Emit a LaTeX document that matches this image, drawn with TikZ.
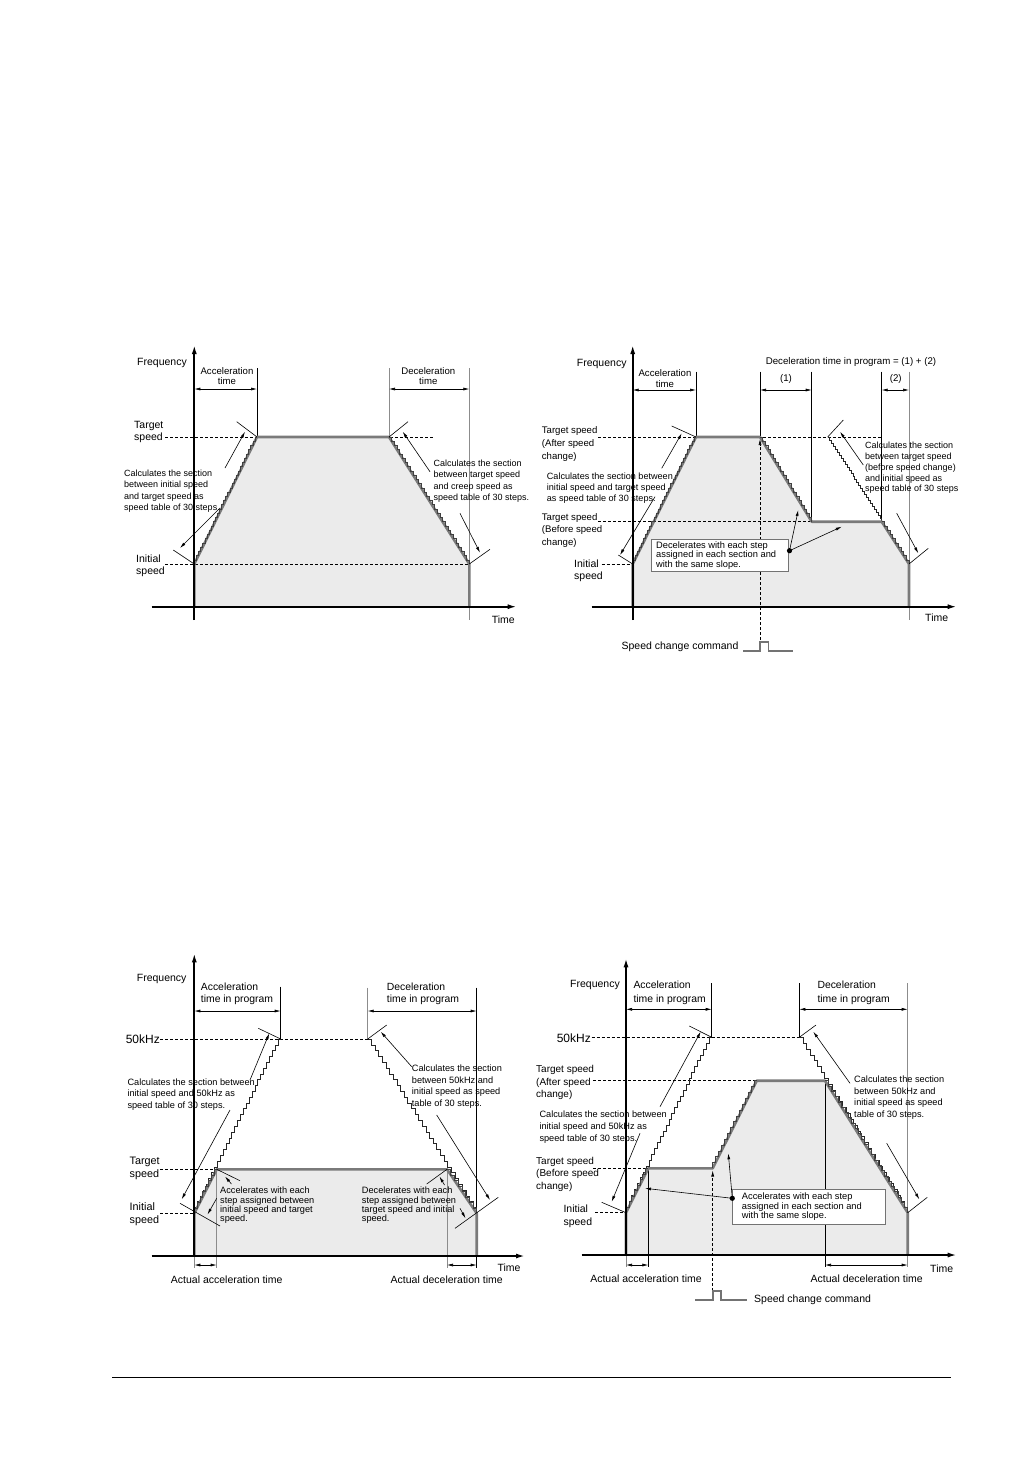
\documentclass[tikz,border=0pt]{standalone}
\usepackage{fontspec}
\setmainfont{Liberation Sans}
\usetikzlibrary{arrows.meta}
\newcommand{\StUp}[6]{%
  \pgfmathsetmacro{\sdx}{(#4-#2)/#6}\pgfmathsetmacro{\sdy}{(#5-#3)/#6}%
  \draw[#1] (#2,#3) \foreach \k in {1,...,#6}{ -- ++(0,\sdy) -- ++(\sdx,0) };}
\newcommand{\StDn}[6]{%
  \pgfmathsetmacro{\sdx}{(#4-#2)/#6}\pgfmathsetmacro{\sdy}{(#5-#3)/#6}%
  \draw[#1] (#2,#3) \foreach \k in {1,...,#6}{ -- ++(\sdx,0) -- ++(0,\sdy) };}
\tikzset{
  prof/.style={line width=2.6pt, draw=black!52, line join=round},
  area/.style={fill=black!8},
  axisln/.style={line width=1.7pt, -{Latex[length=9pt,width=5pt]}},
  dimln/.style={line width=0.6pt, {Latex[length=6pt,width=3pt]}-{Latex[length=6pt,width=3pt]}},
  guide/.style={line width=0.7pt},
  gguide/.style={line width=1pt, draw=black!45},
  lvl/.style={line width=0.6pt, dash pattern=on 3pt off 2pt},
  tickln/.style={line width=0.6pt},
  pointer/.style={line width=0.6pt, -{Latex[length=6pt,width=3pt]}},
  ghost/.style={line width=0.5pt, draw=black!85},
  fine/.style={line width=0.5pt, draw=black!75},
  pulse/.style={line width=1.6pt, draw=black!55},
  notebox/.style={draw=black!55, fill=white, line width=0.6pt, inner sep=0pt},
  lab/.style={font={\fontsize{10.5}{12.4}\selectfont}, align=left, inner sep=0pt},
  annot/.style={font={\fontsize{9}{11.3}\selectfont}, align=left, inner sep=0pt},
  boxt/.style={font={\fontsize{9.3}{9.6}\selectfont}, align=left, inner sep=0pt},
}
\begin{document}
\begin{tikzpicture}[x=1pt,y=-1pt]
\useasboundingbox[fill=white] (0,0) rectangle (1033,1457);

%%%%%%%%%%%%%%%% PANEL 1
\coordinate (a0) at (194.3,606.7); \coordinate (aI) at (194.3,564);
\coordinate (aT) at (257,437); \coordinate (aT2) at (389,437);
\coordinate (aI2) at (469.3,564); \coordinate (aE) at (469.3,606.7);
\fill[area] (a0)--(aI)--(aT)--(aT2)--(aI2)--(aE)--cycle;
\draw[lvl] (165,437)--(433,437);
\draw[lvl] (165,564)--(468,564);
\draw[guide] (257,368)--(aT);
\draw[gguide] (389,368)--(aT2);
\draw[gguide] (469.3,368)--(469.3,620);
\draw[gguide] (194.3,606)--(194.3,620);
\draw[dimln] (194.3,389)--(257,389);
\draw[dimln] (389,389)--(469.3,389);
\draw[prof] (a0)--(aI)--(aT)--(aT2)--(aI2)--(aE);
\StUp{fine}{194.3}{564}{257}{437}{30}
\StDn{fine}{389}{437}{469.3}{564}{30}
\draw[axisln] (194.3,620)--(194.3,345);
\draw[axisln] (151.7,606.7)--(516.7,606.7);
\draw[tickln] (236.7,421.7)--(aT);
\draw[tickln] (173.3,550)--(aI);
\draw[tickln] (aT2)--(408,421.7);
\draw[tickln] (aI2)--(490,549.3);
\draw[pointer] (225,468)--(245,431.7);
\draw[pointer] (220,508)--(180,548);
\draw[pointer] (430,471.7)--(402.7,431.7);
\draw[pointer] (460,513.3)--(480,552.7);
\node[lab] (a1) at (162,363) {Frequency};
\node[lab,align=center,font={\fontsize{9.6}{10.7}\selectfont}] (a2) at (227,376) {Acceleration\\time};
\node[lab,align=center,font={\fontsize{9.6}{10.7}\selectfont}] (a3) at (428.3,376) {Deceleration\\time};
\node[lab,anchor=west] (a4) at (134,432) {Target\\speed};
\node[lab,anchor=west] (a5) at (136,566) {Initial\\speed};
\node[lab] (a6) at (503.3,619.3) {Time};
\node[annot,anchor=west] (a7) at (124,491.3) {Calculates the section\\between initial speed\\and target speed as\\speed table of 30 steps.};
\node[annot,anchor=west] (a8) at (433.3,481.3) {Calculates the section\\between target speed\\and creep speed as\\speed table of 30 steps.};

%%%%%%%%%%%%%%%% PANEL 2
\coordinate (b0) at (632.7,606.7); \coordinate (bI) at (632.7,564);
\coordinate (bA) at (696,437); \coordinate (bB) at (760,437);
\coordinate (bC) at (811.7,521.7); \coordinate (bD) at (881.7,521.7);
\coordinate (bE) at (909,564); \coordinate (bF) at (909,606.7);
\fill[area] (b0)--(bI)--(bA)--(bB)--(bC)--(bD)--(bE)--(bF)--cycle;
\draw[lvl] (598,437)--(881.7,437);
\draw[lvl] (598,521.7)--(811.7,521.7);
\draw[lvl] (601.7,564)--(632.7,564);
\draw[guide] (696,371.7)--(bA);
\draw[guide] (760,371.7)--(bB);
\draw[guide] (811.7,371.7)--(bC);
\draw[guide] (881.7,371.7)--(bD);
\draw[gguide] (909,371.7)--(909,620);
\draw[gguide] (632.7,606)--(632.7,620);
\draw[dimln] (632.7,390)--(696,390);
\draw[dimln] (760,390)--(811.7,390);
\draw[dimln] (881.7,390)--(909,390);
\StDn{ghost}{827.7}{437}{881.7}{521.7}{28}
\draw[pointer,lvl] (760,645)--(760,439);
\node[notebox,minimum width=136.6pt,minimum height=31.7pt] (bbox) at (720,555.2) {};
\draw[prof] (b0)--(bI)--(bA)--(bB)--(bC)--(bD)--(bE)--(bF);
\StUp{fine}{632.7}{564}{696}{437}{30}
\StDn{fine}{760}{437}{811.7}{521.7}{20}
\StDn{fine}{881.7}{521.7}{909}{564}{10}
\draw[axisln] (632.7,620)--(632.7,345);
\draw[axisln] (591.7,606.7)--(956.7,606.7);
\draw[tickln] (671.7,426)--(bA);
\draw[tickln] (618.3,555)--(bI);
\draw[tickln] (827.7,437)--(843.3,420);
\draw[tickln] (bE)--(928.3,548.3);
\draw[pointer] (661.7,468.3)--(681.7,433.3);
\draw[pointer] (655,496.7)--(620,555);
\draw[pointer] (863.3,465)--(840,431.7);
\draw[pointer] (896.7,513.3)--(918.3,553.3);
\coordinate (bdot) at (789.5,550.7);
\fill (bdot) circle (2.6pt);
\draw[pointer] (bdot)--(798.3,510);
\draw[pointer] (bdot)--(841.7,526.7);
\node[boxt,anchor=west] (b9) at (656,555.3) {Decelerates with each step\\assigned in each section and\\with the same slope.};
\draw[pulse] (743.3,650.7)--(760,650.7)--(760,641.7)--(768.3,641.7)--(768.3,650.7)--(793.3,650.7);
\node[lab] (b1) at (601.7,364) {Frequency};
\node[lab,align=center,font={\fontsize{9.6}{10.7}\selectfont}] (b2) at (665,378.3) {Acceleration\\time};
\node[lab,font={\fontsize{9.7}{11}\selectfont}] (b3) at (851,361.7) {Deceleration time in program = (1) + (2)};
\node[lab,font={\fontsize{9.7}{11}\selectfont}] (b4) at (786,379.3) {(1)};
\node[lab,font={\fontsize{9.7}{11}\selectfont}] (b5) at (895.7,379.3) {(2)};
\node[lab,anchor=west,font={\fontsize{9.6}{12.6}\selectfont}] (b6) at (541.7,444) {Target speed\\(After speed\\change)};
\node[lab,anchor=west,font={\fontsize{9.6}{12.2}\selectfont}] (b7) at (541.7,530.5) {Target speed\\(Before speed\\change)};
\node[lab,anchor=west] (b8) at (574,571) {Initial\\speed};
\node[annot,anchor=west,font={\fontsize{9.1}{11.3}\selectfont}] (b10) at (546.7,488) {Calculates the section between\\initial speed and target speed\\as speed table of 30 steps.};
\node[annot,anchor=west,font={\fontsize{9}{10.7}\selectfont}] (b11) at (865,468) {Calculates the section\\between target speed\\(before speed change)\\and initial speed as\\speed table of 30 steps};
\node[lab] (b12) at (936.7,617.7) {Time};
\node[lab] (b13) at (680,646.7) {Speed change command};

%%%%%%%%%%%%%%%% PANEL 3
\coordinate (c0) at (194.3,1256); \coordinate (cI) at (194.3,1213.3);
\coordinate (cT) at (216.7,1169.3); \coordinate (cT2) at (447,1169.3);
\coordinate (cI2) at (476.7,1213.3); \coordinate (cE) at (476.7,1256);
\fill[area] (c0)--(cI)--(cT)--(cT2)--(cI2)--(cE)--cycle;
\draw[lvl] (160,1039)--(367.7,1039);
\draw[lvl] (160,1169.3)--(216.7,1169.3);
\draw[lvl] (160,1213.3)--(194.3,1213.3);
\draw[guide] (280.7,986.7)--(280.7,1039);
\draw[gguide] (367.7,987.7)--(367.7,1039);
\draw[guide] (476.7,987.7)--(476.7,1268);
\draw[gguide] (216.7,1169.3)--(216.7,1268);
\draw[gguide] (447,1169.3)--(447,1268);
\draw[gguide] (194.3,1256)--(194.3,1268);
\draw[dimln] (194.3,1011)--(280.7,1011);
\draw[dimln] (367.7,1011)--(476.7,1011);
\draw[dimln] (194.3,1265)--(216.7,1265);
\draw[dimln] (447,1265)--(476.7,1265);
\StUp{ghost}{194.3}{1213.3}{280.7}{1039}{30}
\StDn{ghost}{367.7}{1039}{476.7}{1213.3}{30}
\draw[prof] (c0)--(cI)--(cT)--(cT2)--(cI2)--(cE);
\StUp{fine}{194.3}{1213.3}{216.7}{1169.3}{8}
\StDn{fine}{447}{1169.3}{476.7}{1213.3}{8}
\draw[axisln] (194.3,1256)--(194.3,953.3);
\draw[axisln] (151.7,1256)--(525,1256);
\draw[tickln] (258.3,1028.3)--(280.7,1039);
\draw[tickln] (180,1203.3)--(220,1226);
\draw[tickln] (cT)--(240,1180.7);
\draw[tickln] (367.7,1039)--(386.7,1025);
\draw[tickln] (455,1228.3)--(498.3,1197.3);
\draw[tickln] (426.7,1184)--(cT2);
\draw[pointer] (250,1080)--(269.3,1033.3);
\draw[pointer] (230,1110)--(181.7,1199.3);
\draw[pointer] (411.7,1066.7)--(380.7,1031.7);
\draw[pointer] (436.7,1115)--(490,1200);
\draw[pointer] (231.5,1184)--(225,1176.5);
\draw[pointer] (216.7,1198.3)--(207.5,1214.5);
\draw[pointer] (444.5,1185)--(439.5,1176.5);
\draw[pointer] (460,1208.3)--(465.5,1218.3);
\node[lab] (c1) at (161.7,979.3) {Frequency};
\node[lab,anchor=west,font={\fontsize{10.4}{12.3}\selectfont}] (c2) at (200.7,994) {Acceleration\\time in program};
\node[lab,anchor=west,font={\fontsize{10.4}{12.3}\selectfont}] (c3) at (386.7,994) {Deceleration\\time in program};
\node[lab,anchor=east,font={\fontsize{12}{13}\selectfont}] (c4) at (160,1039) {50kHz};
\node[lab,anchor=west,font={\fontsize{10.8}{13.3}\selectfont}] (c5) at (129.5,1168.3) {Target\\speed};
\node[lab,anchor=west,font={\fontsize{10.8}{13.3}\selectfont}] (c6) at (129.5,1214.3) {Initial\\speed};
\node[annot,anchor=west,font={\fontsize{9.2}{11.5}\selectfont}] (c7) at (127.3,1094.3) {Calculates the section between\\initial speed and 50kHz as\\speed table of 30 steps.};
\node[annot,anchor=west,font={\fontsize{9.2}{11.5}\selectfont}] (c8) at (411.7,1086.7) {Calculates the section\\between 50kHz and\\initial speed as speed\\table of 30 steps.};
\node[boxt,anchor=west,font={\fontsize{9.2}{9.3}\selectfont}] (c9) at (220,1205.3) {Accelerates with each\\step assigned between\\initial speed and target\\speed.};
\node[boxt,anchor=west,font={\fontsize{9.2}{9.3}\selectfont}] (c10) at (361.7,1205.3) {Decelerates with each\\step assigned between\\target speed and initial\\speed.};
\node[lab] (c11) at (226.7,1279.3) {Actual acceleration time};
\node[lab] (c12) at (446.7,1279.3) {Actual deceleration time};
\node[lab] (c13) at (509,1267.3) {Time};

%%%%%%%%%%%%%%%% PANEL 4
\coordinate (d0) at (626,1255); \coordinate (dI) at (626,1212.7);
\coordinate (dP) at (648.3,1168.3); \coordinate (dQ) at (712.7,1168.3);
\coordinate (dR) at (756.7,1080.7); \coordinate (dS) at (825,1080.7);
\coordinate (dE) at (907.7,1212.7); \coordinate (dF) at (907.7,1255);
\fill[area] (d0)--(dI)--(dP)--(dQ)--(dR)--(dS)--(dE)--(dF)--cycle;
\draw[lvl] (591.7,1037.3)--(799.3,1037.3);
\draw[lvl] (593.3,1080.7)--(756.7,1080.7);
\draw[lvl] (593,1168.3)--(648.3,1168.3);
\draw[lvl] (595,1212.7)--(626,1212.7);
\draw[guide] (711.7,983.3)--(711.7,1037.3);
\draw[guide] (799.3,983.3)--(799.3,1037.3);
\draw[gguide] (907.7,983.3)--(907.7,1266.7);
\draw[guide] (648.3,1168.3)--(648.3,1266.7);
\draw[guide] (825,1080.7)--(825,1266.7);
\draw[gguide] (626,1255)--(626,1266.7);
\draw[dimln] (626,1009.3)--(711.7,1009.3);
\draw[dimln] (799.3,1009.3)--(907.7,1009.3);
\draw[dimln] (626,1265)--(648.3,1265);
\draw[dimln] (825,1265)--(907.7,1265);
\StUp{ghost}{626}{1212.7}{711.7}{1037.3}{30}
\StDn{ghost}{799.3}{1037.3}{907.7}{1212.7}{30}
\draw[pointer,lvl] (712.7,1290.7)--(712.7,1170.5);
\node[notebox,minimum width=152.7pt,minimum height=35pt] (dbox) at (808.65,1206.8) {};
\draw[prof] (d0)--(dI)--(dP)--(dQ)--(dR)--(dS)--(dE)--(dF);
\StUp{fine}{626}{1212.7}{648.3}{1168.3}{8}
\StUp{fine}{712.7}{1168.3}{756.7}{1080.7}{15}
\StDn{fine}{825}{1080.7}{907.7}{1212.7}{25}
\draw[axisln] (626,1255)--(626,958.3);
\draw[axisln] (581.7,1255)--(956.7,1255);
\draw[tickln] (689.3,1026)--(711.7,1037.3);
\draw[tickln] (601.7,1202.3)--(dI);
\draw[tickln] (799.3,1037.3)--(816,1025);
\draw[tickln] (dE)--(927.3,1197.3);
\draw[pointer] (660,1106.7)--(700.7,1031.7);
\draw[pointer] (640,1133.3)--(611.7,1201.7);
\draw[pointer] (850,1083.3)--(813.3,1031.7);
\draw[pointer] (886.7,1143.3)--(919.3,1199.3);
\coordinate (ddot) at (732.3,1198.3);
\fill (ddot) circle (2.6pt);
\draw[pointer] (ddot)--(645,1188.3);
\draw[pointer] (ddot)--(728.3,1153.3);
\node[boxt,anchor=west] (d9) at (741.7,1206.7) {Accelerates with each step\\assigned in each section and\\with the same slope.};
\draw[pulse] (695,1300)--(712.7,1300)--(712.7,1290.7)--(720.7,1290.7)--(720.7,1300)--(746.7,1300);
\node[lab,anchor=west] (d13) at (754,1299.3) {Speed change command};
\node[lab] (d1) at (595,985) {Frequency};
\node[lab,anchor=west,font={\fontsize{10.4}{13.2}\selectfont}] (d2) at (633.3,992.7) {Acceleration\\time in program};
\node[lab,anchor=west,font={\fontsize{10.4}{13.2}\selectfont}] (d3) at (817.3,992.7) {Deceleration\\time in program};
\node[lab,anchor=east,font={\fontsize{12}{13}\selectfont}] (d4) at (591,1037.7) {50kHz};
\node[lab,anchor=west,font={\fontsize{10}{12.6}\selectfont}] (d5) at (536,1082.7) {Target speed\\(After speed\\change)};
\node[lab,anchor=west,font={\fontsize{10}{12.6}\selectfont}] (d6) at (536,1174.3) {Target speed\\(Before speed\\change)};
\node[lab,anchor=west,font={\fontsize{10.5}{12.7}\selectfont}] (d7) at (563.3,1216.3) {Initial\\speed};
\node[annot,anchor=west,font={\fontsize{9.2}{11.9}\selectfont}] (d8) at (539.3,1127.3) {Calculates the section between\\initial speed and 50kHz as\\speed table of 30 steps.};
\node[annot,anchor=west,font={\fontsize{9.2}{11.7}\selectfont}] (d10) at (854,1097.5) {Calculates the section\\between 50kHz and\\initial speed as speed\\table of 30 steps.};
\node[lab] (d11) at (646,1278.3) {Actual acceleration time};
\node[lab] (d12) at (866.7,1278.3) {Actual deceleration time};
\node[lab] (d14) at (941.7,1268.3) {Time};

%%%%%%%%%%%%%%%% footer
\coordinate (f1) at (112,1377); \coordinate (f2) at (951,1377);
\draw[line width=1pt] (f1)--(f2);
\end{tikzpicture}
\end{document}
